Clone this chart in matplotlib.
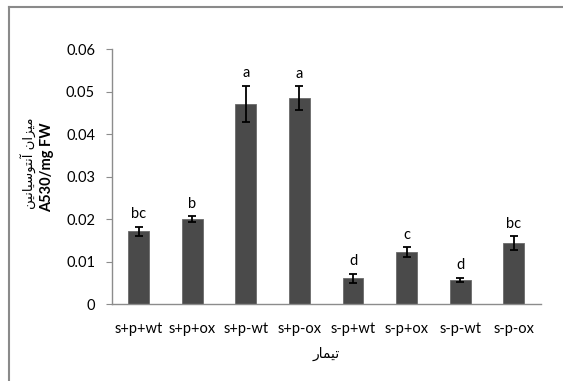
import matplotlib
matplotlib.use("Agg")
import matplotlib.pyplot as plt
from matplotlib.lines import Line2D

categories = ["s+p+wt", "s+p+ox", "s+p-wt", "s+p-ox", "s-p+wt", "s-p+ox", "s-p-wt", "s-p-ox"]
values = [0.0172, 0.0200, 0.0471, 0.0485, 0.0061, 0.0123, 0.0058, 0.0144]
errors = [0.0011, 0.0007, 0.0043, 0.0028, 0.0011, 0.0011, 0.0005, 0.0016]
letters = ["bc", "b", "a", "a", "d", "c", "d", "bc"]
yticks = [0, 0.01, 0.02, 0.03, 0.04, 0.05, 0.06]
ytick_labels = ["0", "0.01", "0.02", "0.03", "0.04", "0.05", "0.06"]

# Persian labels, pre-shaped (presentation forms, visual order)
xlabel_fa = "\uFEAD\uFE8E\uFEE4\uFEF4\uFE97"  # تیمار
ylabel_fa = ("\uFEE6\uFEF4\uFEE7\uFE8E\uFEF4\uFEB3\uFEEE\uFE98\uFEE7\uFE81"
             " " "\uFEE5\uFE8D\uFEB0\uFEF4\uFEE3")  # میزان آنتوسیانین

W, H = 563, 381
fig = plt.figure(figsize=(W/100, H/100), dpi=100)
ax = fig.add_axes([111.7/W, 1-304.3/H, (540.7-111.7)/W, (304.3-49.3)/H])

font = "Lato"
axis_col = "#8c8c8c"
x = list(range(len(categories)))
ax.bar(x, values, width=0.39, color="#4a4a4a", edgecolor="#6a6a6a", linewidth=0.6, zorder=2)
ax.errorbar(x, values, yerr=errors, fmt="none", ecolor="black", elinewidth=1.3,
            capsize=3, capthick=1.3, zorder=3)
for xi, v, e, l in zip(x, values, errors, letters):
    ax.annotate(l, (xi, v + e), xytext=(0, 4), textcoords="offset points",
                ha="center", va="bottom", fontsize=10.5, family=font, color="black")

ax.set_xlim(-0.5, len(categories) - 0.5)
ax.set_ylim(0, 0.06)
ax.set_yticks(yticks)
ax.set_yticklabels(ytick_labels, family=font, fontsize=10.5)
ax.set_xticks(x)
ax.set_xticklabels(categories, family=font, fontsize=10.5)
ax.tick_params(axis="x", length=0, pad=13)
ax.tick_params(axis="y", length=4, color=axis_col, pad=8, direction="out")
for s in ["top", "right"]:
    ax.spines[s].set_visible(False)
for s in ["left", "bottom"]:
    ax.spines[s].set_color(axis_col)
    ax.spines[s].set_linewidth(1.0)

fig.text(47/W, 1-167/H, "A530/mg FW", rotation=90, ha="center", va="center",
         fontsize=10.5, fontweight="bold", family=font)
fig.text(28/W, 1-163/H, ylabel_fa, rotation=90, ha="center", va="center",
         fontsize=9.5, family="DejaVu Sans")
fig.text(326/W, 1-354/H, xlabel_fa, ha="center", va="center",
         fontsize=10, family="DejaVu Sans")

# frame lines (left and top)
fig.add_artist(Line2D([8.5/W, 8.5/W], [0, 1-6.5/H], transform=fig.transFigure,
                      color="#8a8a8a", linewidth=1.5))
fig.add_artist(Line2D([8.5/W, 1], [1-6.5/H, 1-6.5/H], transform=fig.transFigure,
                      color="#8a8a8a", linewidth=1.5))

fig.savefig("out.png", dpi=100)
